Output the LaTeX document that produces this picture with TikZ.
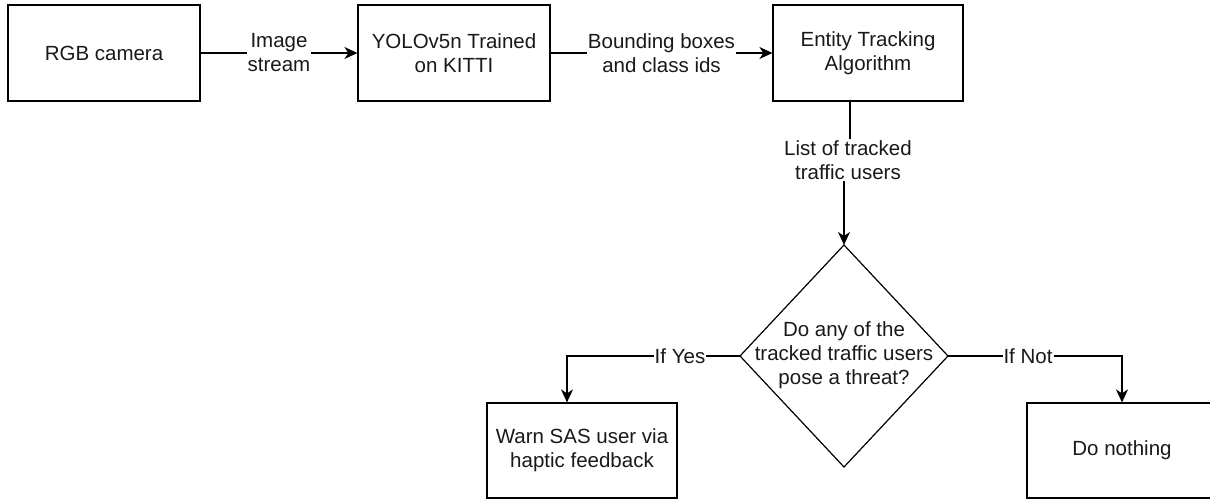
\documentclass[tikz,border=0pt]{standalone}
\usepackage{fontspec}
\setmainfont{Liberation Sans}
\usetikzlibrary{arrows.meta}
\begin{document}
\begin{tikzpicture}[x=1pt,y=-1pt,
  every node/.style={font=\fontsize{20.5}{24}\selectfont, align=center, text=black!90},
  box/.style={draw, line width=1.2pt, minimum height=96pt, inner sep=0pt},
  lbl/.style={fill=white, inner sep=1pt},
  conn/.style={line width=1.2pt, -{Stealth[length=13pt,width=12pt,inset=4pt]}}]
\useasboundingbox (0,0) rectangle (1210,500);
\node[box, minimum width=192pt] (rgb) at (104,53) {RGB camera};
\node[box, minimum width=192pt] (yolo) at (454,53) {YOLOv5n Trained\\on KITTI};
\node[box, minimum width=190pt] (ent) at (868,53) {Entity Tracking\\Algorithm};
\coordinate (dN) at (844,245);
\coordinate (dE) at (948,356);
\coordinate (dS) at (844,467);
\coordinate (dW) at (740,356);
\draw[line width=1.2pt] (dN) -- (dE) -- (dS) -- (dW) -- cycle;
\node (dq) at (844,355) {Do any of the\\tracked traffic users\\pose a threat?};
\node[box, minimum width=190pt, minimum height=95pt] (warn) at (582,450.5) {Warn SAS user via\\haptic feedback};
\node[box, minimum width=190pt, minimum height=95pt] (none) at (1122,450.5) {Do nothing};
% connectors
\draw[conn] (rgb.east) -- (yolo.west) node[lbl, pos=0.5] {Image\\stream};
\draw[conn] (yolo.east) -- (ent.west) node[lbl, pos=0.5] {Bounding boxes\\and class ids};
\coordinate (jog) at (850,160);
\draw[conn] (ent.south -| jog) -- (jog) -- (844,160) -- (dN);
\node[lbl] (l3) at (848,160) {List of tracked\\traffic users};
\draw[conn] (dW) -| (warn.north -| 567,0);
\node[lbl] (ly) at (680,356) {If Yes};
\draw[conn] (dE) -| (none.north);
\node[lbl] (ln) at (1028,356) {If Not};
\end{tikzpicture}
\end{document}
